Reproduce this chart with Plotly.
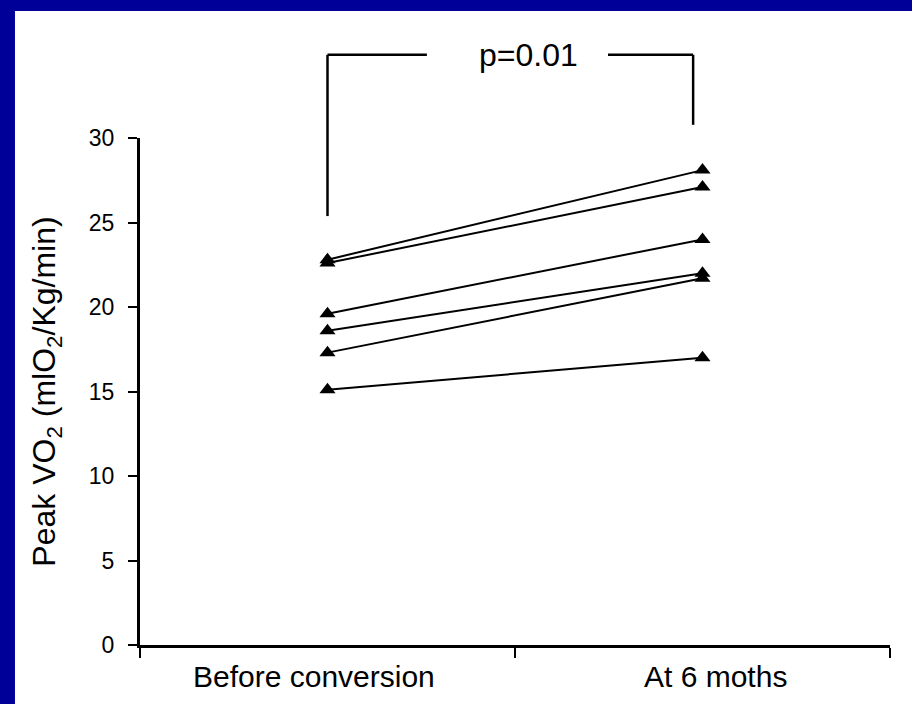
import plotly.graph_objects as go

categories = ["Before conversion", "At 6 moths"]
before = [22.8, 22.6, 19.6, 18.6, 17.3, 15.1]
after = [28.1, 27.1, 24.0, 22.0, 21.7, 17.0]
y_ticks = [0, 5, 10, 15, 20, 25, 30]
p_label = "p=0.01"
y_title = "Peak VO<sub>2</sub> (mlO<sub>2</sub>/Kg/min)"

FONT = "Liberation Sans, Arial, sans-serif"

fig = go.Figure()
for b, a in zip(before, after):
    fig.add_trace(go.Scatter(
        x=categories, y=[b, a], mode="lines+markers",
        line=dict(color="black", width=2),
        marker=dict(symbol="triangle-up", size=14, color="black"),
        showlegend=False, cliponaxis=False, hoverinfo="skip"))

shapes = [
    # white panel over navy background
    dict(type="rect", xref="paper", yref="paper", x0=-0.1667, x1=1.06, y0=-0.2, y1=1.2505,
         fillcolor="white", line=dict(width=0), layer="below"),
    # significance bracket
    dict(type="line", xref="x", yref="paper", x0=0, x1=0, y0=0.846, y1=1.164,
         line=dict(color="black", width=2.5)),
    dict(type="line", xref="x", yref="paper", x0=0, x1=0.265, y0=1.164, y1=1.164,
         line=dict(color="black", width=2.5)),
    dict(type="line", xref="x", yref="paper", x0=0.748, x1=0.975, y0=1.164, y1=1.164,
         line=dict(color="black", width=2.5)),
    dict(type="line", xref="x", yref="paper", x0=0.975, x1=0.975, y0=1.164, y1=1.026,
         line=dict(color="black", width=2.5)),
]

annotations = [dict(text=p_label, xref="x", yref="paper", x=0.535, y=1.164,
                    showarrow=False, font=dict(size=32, color="black"),
                    xanchor="center", yanchor="middle")]
# category labels (slightly offset from the category centres, as in the original)
for cat, shift in zip(categories, [-14, 13]):
    annotations.append(dict(text=cat, xref="x", yref="paper", x=cat, y=-0.0256,
                            xshift=shift, showarrow=False,
                            font=dict(size=30, color="black"),
                            xanchor="center", yanchor="top"))

fig.update_layout(
    width=912, height=704,
    margin=dict(l=140, r=22, t=138, b=59),
    paper_bgcolor="#000099",
    plot_bgcolor="white",
    font=dict(family=FONT, color="black"),
    shapes=shapes,
    annotations=annotations,
    xaxis=dict(type="category", range=[-0.5, 1.5], tickson="boundaries",
               ticks="outside", ticklen=10, tickwidth=2, tickcolor="black",
               showline=True, linecolor="black", linewidth=3,
               showgrid=False, zeroline=False, showticklabels=False),
    yaxis=dict(range=[0, 30], tickmode="array", tickvals=y_ticks,
               ticks="outside", ticklen=9, tickwidth=2, tickcolor="black",
               showline=True, linecolor="black", linewidth=3,
               showgrid=False, zeroline=False, ticklabelstandoff=9,
               tickfont=dict(size=23, color="black"),
               title=dict(text=y_title, font=dict(size=32, color="black"), standoff=24)),
)

fig.write_html("out.html")
